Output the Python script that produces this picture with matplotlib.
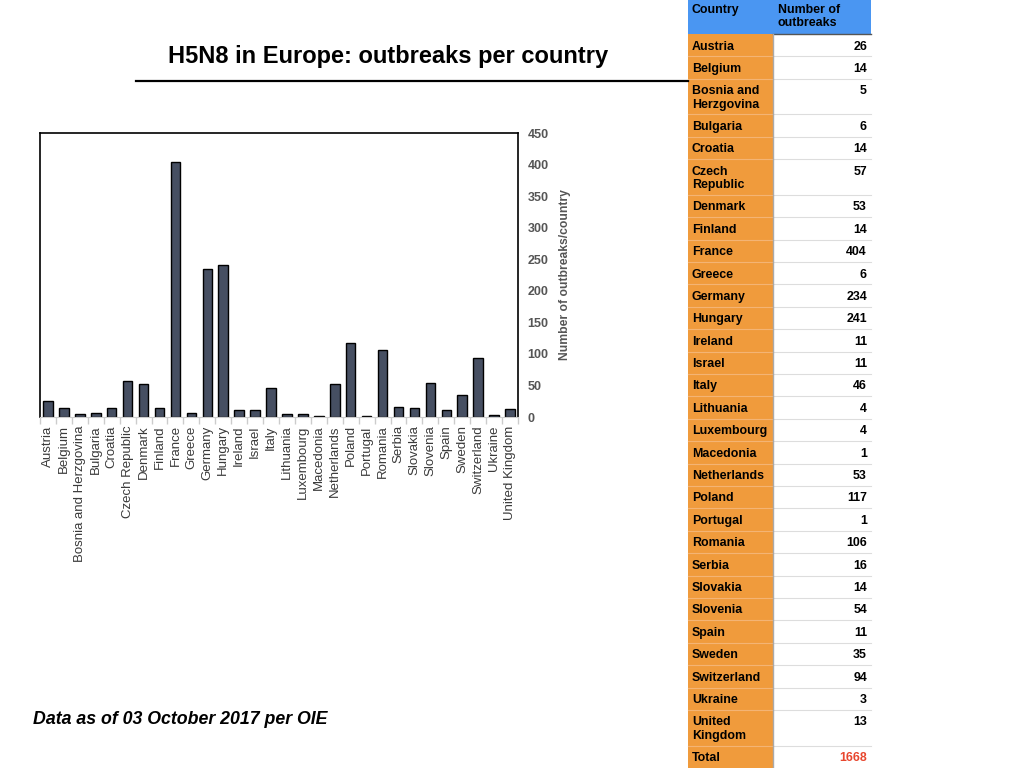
import matplotlib
matplotlib.use('Agg')
import matplotlib.pyplot as plt
from matplotlib.patches import Rectangle
from matplotlib.lines import Line2D

countries = ["Austria", "Belgium", "Bosnia and Herzgovina", "Bulgaria", "Croatia",
             "Czech Republic", "Denmark", "Finland", "France", "Greece", "Germany",
             "Hungary", "Ireland", "Israel", "Italy", "Lithuania", "Luxembourg",
             "Macedonia", "Netherlands", "Poland", "Portugal", "Romania", "Serbia",
             "Slovakia", "Slovenia", "Spain", "Sweden", "Switzerland", "Ukraine",
             "United Kingdom"]
outbreaks = [26, 14, 5, 6, 14, 57, 53, 14, 404, 6, 234, 241, 11, 11, 46, 4, 4, 1,
             53, 117, 1, 106, 16, 14, 54, 11, 35, 94, 3, 13]
table_labels = ["Austria", "Belgium", "Bosnia and\nHerzgovina", "Bulgaria", "Croatia",
                "Czech\nRepublic", "Denmark", "Finland", "France", "Greece", "Germany",
                "Hungary", "Ireland", "Israel", "Italy", "Lithuania", "Luxembourg",
                "Macedonia", "Netherlands", "Poland", "Portugal", "Romania", "Serbia",
                "Slovakia", "Slovenia", "Spain", "Sweden", "Switzerland", "Ukraine",
                "United\nKingdom"]
total_value = 1668
yticks = [0, 50, 100, 150, 200, 250, 300, 350, 400, 450]

plt.rcParams['font.family'] = ['Liberation Sans', 'DejaVu Sans']

W, H = 1024, 768
fig = plt.figure(figsize=(10.24, 7.68), dpi=100)
fig.patch.set_facecolor('white')


def fx(x):
    return x / W


def fy(y):
    return 1 - y / H


# ---- bar chart ----
ax = fig.add_axes([fx(40), fy(417), fx(518) - fx(40), fy(133) - fy(417)])
xs = list(range(len(countries)))
ax.bar(xs, outbreaks, width=0.6, color='#464f62', edgecolor='black', linewidth=1)
ax.set_xlim(-0.5, len(countries) - 0.5)
ax.set_ylim(0, 450)
ax.yaxis.tick_right()
ax.yaxis.set_label_position('right')
ax.set_yticks(yticks)
ax.tick_params(axis='y', length=0, pad=7, labelsize=9, labelcolor='#555555')
for lab in ax.get_yticklabels():
    lab.set_fontweight('bold')
ax.set_ylabel('Number of outbreaks/country', fontsize=8.7, fontweight='bold',
              color='#555555', labelpad=7)
ax.set_xticks(xs)
ax.set_xticklabels(countries, rotation=90, fontsize=9.5, color='#3a3a3a')
ax.tick_params(axis='x', which='major', length=0, pad=6)
ax.set_xticks([i - 0.5 for i in range(len(countries) + 1)], minor=True)
ax.tick_params(axis='x', which='minor', length=5, color='#cccccc', width=1)
ax.spines['bottom'].set_color('#cccccc')
for s in ['left', 'right', 'top']:
    ax.spines[s].set_linewidth(1.2)
    ax.spines[s].set_color('black')

# ---- title & rule ----
fig.text(fx(388.5), fy(56), 'H5N8 in Europe: outbreaks per country', ha='center',
         va='center', fontsize=17, fontweight='bold', color='black')
fig.add_artist(Line2D([fx(136), fx(688)], [fy(81), fy(81)], color='black', lw=1.6))

# ---- footer ----
fig.text(fx(33), fy(719), 'Data as of 03 October 2017 per OIE', ha='left', va='center',
         fontsize=12.8, fontweight='bold', style='italic', color='black')

# ---- table ----
X0, X1, X2 = 688, 773, 871
BLUE = '#4a96f2'
ORANGE = '#f09b3c'
FS = 8.9


def rect(x0, y0, x1, y1, color):
    fig.add_artist(Rectangle((fx(x0), fy(y1)), (x1 - x0) / W, (y1 - y0) / H,
                             facecolor=color, edgecolor='none', transform=fig.transFigure))


def hline(x0, x1, y, color, lw=0.8):
    fig.add_artist(Line2D([fx(x0), fx(x1)], [fy(y), fy(y)], color=color, lw=lw))


rect(X0, 0, X2, 34, BLUE)
fig.text(fx(692), fy(4), 'Country', ha='left', va='top', fontsize=FS,
         fontweight='bold', color='black')
fig.text(fx(778), fy(4), 'Number of\noutbreaks', ha='left', va='top', fontsize=FS,
         fontweight='bold', color='black', linespacing=1.15)

y = 34.0
rows = list(zip(table_labels, [str(v) for v in outbreaks]))
rows.append(('Total', str(total_value)))
for i, (lab, val) in enumerate(rows):
    h = 35.6 if '\n' in lab else 22.4
    rect(X0, y, X1, y + h, ORANGE)
    fig.text(fx(692), fy(y + 6.5), lab, ha='left', va='top', fontsize=FS,
             fontweight='bold', color='black', linespacing=1.15)
    fig.text(fx(867), fy(y + 6.5), val, ha='right', va='top', fontsize=FS,
             fontweight='bold', color='#e8472f' if lab == 'Total' else 'black')
    if i < len(rows) - 1:
        hline(X1, X2, y + h, '#dddddd')
        hline(X0, X1, y + h, '#f4b474')
    y += h

hline(X1, X2, 34, '#555555', lw=1.0)
fig.add_artist(Line2D([fx(X1), fx(X1)], [fy(34), fy(768)], color='#aaaaaa', lw=1.0))

fig.savefig('out.png', dpi=100)
